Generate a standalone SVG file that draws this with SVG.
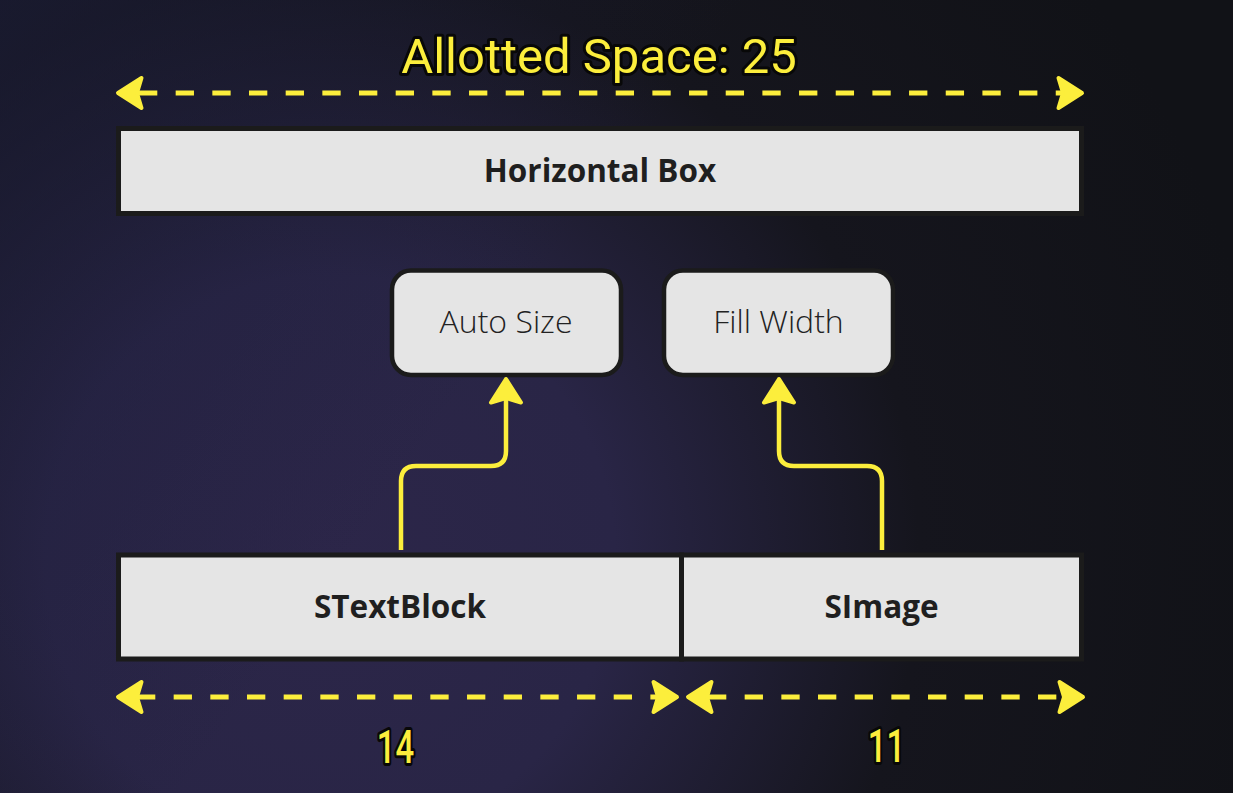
<svg xmlns="http://www.w3.org/2000/svg" xmlns:xlink="http://www.w3.org/1999/xlink" width="1233" height="793" viewBox="0 0 1233 793">
  <defs>
    <radialGradient id="bg" cx="330" cy="560" r="950" gradientUnits="userSpaceOnUse">
      <stop offset="0" stop-color="#2c2649"/>
      <stop offset="0.3" stop-color="#292546"/>
      <stop offset="0.62" stop-color="#15151d"/>
      <stop offset="1" stop-color="#111217"/>
    </radialGradient>
    <linearGradient id="tl" x1="0" y1="0" x2="500" y2="350" gradientUnits="userSpaceOnUse">
      <stop offset="0" stop-color="#1c1d3a" stop-opacity="0.6"/>
      <stop offset="1" stop-color="#1c1d3a" stop-opacity="0"/>
    </linearGradient>
    <path id="head" d="M-2,0 L-25.5,-15 L-21,0 L-25.5,15 Z"/>
    <style>
      .box { fill: #e5e5e5; stroke: #1b1b1b; stroke-width: 5; }
      .rbox { fill: #e5e5e5; stroke: #1b1b1b; stroke-width: 4.5; }
      .bold { font-family: "Open Sans", "Noto Sans", sans-serif; font-weight: 700; font-size: 31.5px; fill: #1f1f1f; text-anchor: middle; }
      .light { font-family: "Open Sans", "Noto Sans", sans-serif; font-weight: 350; font-size: 32px; fill: #222222; text-anchor: middle; }
      .dash { stroke: #fcee3c; stroke-width: 5; fill: none; stroke-dasharray: 18.3 18.37; }
      .conn { stroke: #fcee3c; stroke-width: 4.5; fill: none; }
      .hd { fill: #fcee3c; stroke: #fcee3c; stroke-width: 4; stroke-linejoin: round; }
      .lbl { font-family: Roboto, "Liberation Sans", sans-serif; fill: #fcee3c; stroke: #080808; stroke-linejoin: round; paint-order: stroke; text-anchor: middle; }
    </style>
  </defs>
  <rect x="0" y="0" width="1233" height="793" fill="url(#bg)"/>
  <rect x="0" y="0" width="1233" height="793" fill="url(#tl)"/>

  <text class="lbl" x="599" y="73" font-size="49" stroke-width="6">Allotted Space: 25</text>

  <g id="dimensions">
    <line class="dash" x1="139" y1="93" x2="1062" y2="93"/>
    <use href="#head" class="hd" transform="translate(116,93) rotate(180)"/>
    <use href="#head" class="hd" transform="translate(1084,93)"/>
    <line class="dash" x1="137" y1="697" x2="657" y2="697"/>
    <use href="#head" class="hd" transform="translate(116,697) rotate(180)"/>
    <use href="#head" class="hd" transform="translate(679,697)"/>
    <line class="dash" x1="708" y1="697" x2="1063" y2="697"/>
    <use href="#head" class="hd" transform="translate(686,697) rotate(180)"/>
    <use href="#head" class="hd" transform="translate(1085,697)"/>
    <text class="lbl" font-size="47" font-weight="500" stroke-width="6" transform="translate(395.5,763) scale(0.7,1)">14</text>
    <text class="lbl" font-size="47" font-weight="500" stroke-width="6" transform="translate(886.5,762) scale(0.7,1)">11</text>
  </g>

  <g id="horizontal-box">
    <rect class="box" x="118.5" y="128.5" width="963" height="85"/>
    <text class="bold" x="600" y="182">Horizontal Box</text>
  </g>

  <g id="auto-size">
    <rect class="rbox" x="392" y="270.5" width="229" height="104.5" rx="19"/>
    <text class="light" x="506" y="333">Auto Size</text>
  </g>

  <g id="fill-width">
    <rect class="rbox" x="664" y="270.5" width="229" height="104.5" rx="19"/>
    <text class="light" x="778.5" y="333">Fill Width</text>
  </g>

  <g id="stextblock">
    <rect class="box" x="118.5" y="555" width="563" height="104"/>
    <text class="bold" x="400" y="618">STextBlock</text>
  </g>

  <g id="simage">
    <rect class="box" x="681.5" y="555" width="400" height="104"/>
    <text class="bold" x="881.5" y="618">SImage</text>
  </g>

  <g id="connectors">
    <path class="conn" d="M401,550 V481 Q401,466 416,466 H491 Q506,466 506,451 V400"/>
    <use href="#head" class="hd" transform="translate(506,377) rotate(-90)"/>
    <path class="conn" d="M882,550 V481 Q882,466 867,466 H794 Q779,466 779,451 V400"/>
    <use href="#head" class="hd" transform="translate(779,377) rotate(-90)"/>
  </g>
</svg>
